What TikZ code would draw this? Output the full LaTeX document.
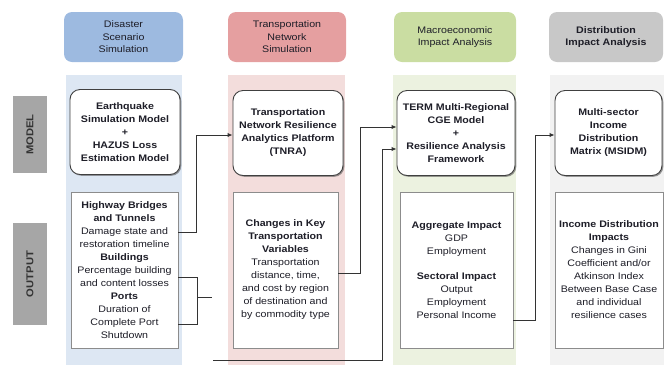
\documentclass[tikz,border=0pt]{standalone}
\usepackage{fontspec}
\setmainfont[FakeStretch=1.12]{Liberation Sans}
\usetikzlibrary{shadows,arrows.meta}
\definecolor{hblue}{RGB}{157,186,224}
\definecolor{cblue}{RGB}{221,231,243}
\definecolor{hred}{RGB}{229,159,160}
\definecolor{cred}{RGB}{243,221,220}
\definecolor{hgreen}{RGB}{202,221,162}
\definecolor{cgreen}{RGB}{236,242,224}
\definecolor{hgray}{RGB}{200,200,200}
\definecolor{cgray}{RGB}{242,242,242}
\definecolor{sgray}{RGB}{166,166,166}
\definecolor{txt}{RGB}{30,30,40}
\begin{document}
\begin{tikzpicture}[x=1pt,y={(0pt,-1pt)},
  hdr/.style={rounded corners=8pt, inner sep=0pt, minimum height=50pt, align=center,
    text=txt, font=\fontsize{9.5}{12.5}\selectfont},
  colbg/.style={inner sep=0pt, minimum height=290pt},
  side/.style={fill=sgray, inner sep=0pt, minimum height=34pt, rotate=90,
    text=black!80, font=\fontsize{10}{12}\selectfont\bfseries},
  modelbox/.style={rounded corners=10pt, draw=black!75, line width=0.9pt, fill=white,
    inner sep=0pt, minimum height=85pt, align=center, text=txt,
    font=\fontsize{9.5}{13}\selectfont\bfseries,
    drop shadow={shadow xshift=1.3pt, shadow yshift=-1.3pt, opacity=0.55, fill=black!70}},
  outbox/.style={draw=black!45, line width=0.7pt, fill=white, inner sep=0pt,
    minimum height=156pt, align=center, text=txt,
    font=\fontsize{9.5}{13}\selectfont,
    drop shadow={shadow xshift=1.3pt, shadow yshift=-1.3pt, opacity=0.55, fill=black!60}},
  conn/.style={draw=black!80, line width=1pt},
  arr/.style={conn, -{Latex[length=5pt,width=4.5pt]}}
]
\useasboundingbox (0,0) rectangle (664,365);
% column backgrounds
\node[colbg, fill=cblue, minimum width=116pt] (c1) at (124,220) {};
\node[colbg, fill=cred, minimum width=117pt] (c2) at (286.5,220) {};
\node[colbg, fill=cgreen, minimum width=123pt] (c3) at (454.5,220) {};
\node[colbg, fill=cgray, minimum width=114pt] (c4) at (607,220) {};
% headers
\node[hdr, fill=hblue, minimum width=119pt] (h1) at (123.5,37) {Disaster\\Scenario\\Simulation};
\node[hdr, fill=hred, minimum width=118pt] (h2) at (287,37) {Transportation\\Network\\Simulation};
\node[hdr, fill=hgreen, minimum width=122pt] (h3) at (455,37) {Macroeconomic\\Impact Analysis};
\node[hdr, fill=hgray, minimum width=114pt, font=\fontsize{9.5}{12.5}\selectfont\bfseries] (h4) at (606,37) {Distribution\\Impact Analysis};
% side labels
\node[side, minimum width=77pt] (smodel) at (30,134.5) {MODEL};
\node[side, minimum width=102pt] (soutput) at (30,274) {OUTPUT};
% model boxes
\node[modelbox, minimum width=110pt] (m1) at (125,132) {Earthquake\\Simulation Model\\+\\HAZUS Loss\\Estimation Model};
\node[modelbox, minimum width=110pt] (m2) at (288,133) {Transportation\\Network Resilience\\Analytics Platform\\(TNRA)};
\node[modelbox, minimum width=118pt] (m3) at (456,133) {TERM Multi-Regional\\CGE Model\\+\\Resilience Analysis\\Framework};
\node[modelbox, minimum width=107pt] (m4) at (608.5,133) {Multi-sector\\Income\\Distribution\\Matrix (MSIDM)};
% output boxes
\node[outbox, minimum width=107pt] (o1) at (124.5,270) {\textbf{Highway Bridges}\\\textbf{and Tunnels}\\Damage state and\\restoration timeline\\\textbf{Buildings}\\Percentage building\\and content losses\\\textbf{Ports}\\Duration of\\Complete Port\\Shutdown};
\node[outbox, minimum width=105pt] (o2) at (285.5,270) {\textbf{Changes in Key}\\\textbf{Transportation}\\\textbf{Variables}\\Transportation\\distance, time,\\and cost by region\\of destination and\\by commodity type};
\node[outbox, minimum width=113pt] (o3) at (456.5,270) {\textbf{Aggregate Impact}\\GDP\\Employment\\[12pt]\textbf{Sectoral Impact}\\Output\\Employment\\Personal Income};
\node[outbox, minimum width=108pt] (o4) at (609,270) {\textbf{Income Distribution}\\\textbf{Impacts}\\Changes in Gini\\Coefficient and/or\\Atkinson Index\\Between Base Case\\and individual\\resilience cases};
% connector coordinates
\coordinate (a1) at (196,232);
\coordinate (a2) at (196,135);
\coordinate (b1) at (197,277);
\coordinate (b2) at (197,324);
\coordinate (b3) at (197,297);
\coordinate (b4) at (212,297);
\coordinate (d1) at (213,360);
\coordinate (d2) at (382,360);
\coordinate (d3) at (382,149);
\coordinate (e1) at (360,273);
\coordinate (e2) at (360,127);
\coordinate (f1) at (535,320);
\coordinate (f2) at (535,135);
% connectors
\draw[arr] (o1.east |- a1) -- (a1) -- (a2) -- (m2.west |- a2);
\draw[conn] (o1.east |- b1) -- (b1) -- (b2) -- (o1.east |- b2);
\draw[conn] (b3) -- (b4);
\draw[arr] (d1) -- (d2) -- (d3) -- (m3.west |- d3);
\draw[arr] (o2.east |- e1) -- (e1) -- (e2) -- (m3.west |- e2);
\draw[arr] (o3.east |- f1) -- (f1) -- (f2) -- (m4.west |- f2);
\end{tikzpicture}
\end{document}
